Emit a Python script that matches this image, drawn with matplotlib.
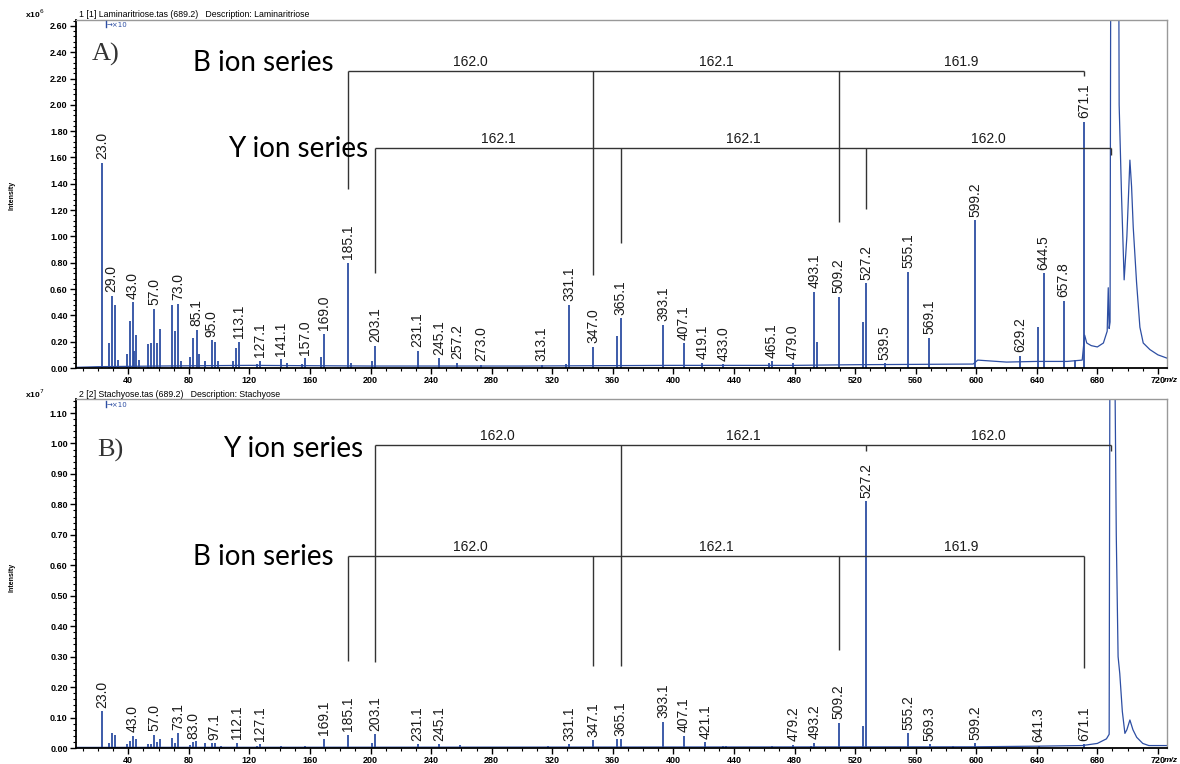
import matplotlib
matplotlib.use('Agg')
import matplotlib.pyplot as plt
from matplotlib.ticker import MultipleLocator, FormatStrFormatter

plt.rcParams['font.family'] = ['Liberation Sans', 'DejaVu Sans']

W, H = 1180, 764
BLUE = '#2d4ea3'
LADDER = '#333333'

# ---- panel A: Laminaritriose, intensity in x10^6 ----
a_mz = [23.0, 27.0, 29.0, 31.0, 33.0, 39.0, 41.0, 43.0, 44.0, 45.0, 47.0, 53.0, 55.0,
        57.0, 59.0, 61.0, 69.0, 71.0, 73.0, 75.0, 81.0, 83.0, 85.1, 87.0, 91.0, 95.0,
        97.0, 99.0, 109.0, 111.0, 113.1, 125.0, 127.1, 141.1, 145.0, 155.0, 157.0,
        167.0, 169.0, 185.1, 187.0, 201.0, 203.1, 231.1, 245.1, 257.2, 273.0, 313.1,
        329.0, 331.1, 347.0, 363.0, 365.1, 393.1, 407.1, 419.1, 433.0, 463.0, 465.1,
        479.0, 493.1, 495.0, 509.2, 525.0, 527.2, 539.5, 555.1, 569.1, 599.2, 629.2,
        641.0, 644.5, 657.8, 665.0, 671.1]
a_int = [1.56, 0.19, 0.55, 0.48, 0.06, 0.11, 0.36, 0.50, 0.13, 0.25, 0.06, 0.18, 0.19,
         0.45, 0.19, 0.30, 0.48, 0.28, 0.49, 0.05, 0.08, 0.23, 0.29, 0.11, 0.05, 0.21,
         0.20, 0.05, 0.05, 0.15, 0.20, 0.03, 0.055, 0.065, 0.04, 0.03, 0.075,
         0.08, 0.26, 0.80, 0.04, 0.05, 0.17, 0.13, 0.075, 0.04, 0.025, 0.025,
         0.03, 0.48, 0.16, 0.24, 0.38, 0.33, 0.19, 0.04, 0.03, 0.04, 0.05,
         0.04, 0.58, 0.20, 0.54, 0.35, 0.645, 0.035, 0.73, 0.23, 1.125, 0.095,
         0.31, 0.72, 0.51, 0.06, 1.87]
a_labels = [23.0, 29.0, 43.0, 57.0, 73.0, 85.1, 95.0, 113.1, 127.1, 141.1, 157.0, 169.0,
            185.1, 203.1, 231.1, 245.1, 257.2, 273.0, 313.1, 331.1, 347.0, 365.1, 393.1,
            407.1, 419.1, 433.0, 465.1, 479.0, 493.1, 509.2, 527.2, 539.5, 555.1, 569.1,
            599.2, 629.2, 644.5, 657.8, 671.1]
# continuous trace (baseline + broad precursor region)
a_trace_mz = [5.5, 20, 60, 120, 200, 300, 400, 480, 520, 598, 601, 620, 640, 660, 670,
              671.6, 673, 676, 680, 684, 686.5, 687.2, 687.8, 688.4, 689.0, 693.9, 694.4,
              696.0, 697.7, 699.5, 701.5, 702.6, 703.7, 705.9, 708.1, 710.3, 714.7, 720, 726]
a_trace_int = [0.005, 0.01, 0.015, 0.02, 0.015, 0.015, 0.02, 0.02, 0.025, 0.03, 0.06, 0.045,
               0.05, 0.05, 0.06, 0.25, 0.19, 0.17, 0.16, 0.19, 0.28, 0.61, 0.30, 0.35, 4.0,
               4.0, 2.0, 1.3, 0.67, 1.0, 1.58, 1.38, 1.07, 0.65, 0.31, 0.19, 0.14, 0.1, 0.075]

# ---- panel B: Stachyose, intensity in x10^7 ----
b_mz = [23.0, 27.0, 29.0, 31.0, 39.0, 41.0, 43.0, 45.0, 53.0, 55.0, 57.0, 59.0, 61.0,
        69.0, 71.0, 73.1, 81.0, 83.0, 85.0, 91.0, 95.0, 97.1, 101.0, 112.1, 125.0, 127.1,
        141.0, 157.0, 169.1, 185.1, 201.0, 203.1, 231.1, 245.1, 259.0, 317.0, 331.1,
        347.1, 363.0, 365.1, 393.1, 407.1, 421.1, 433.0, 435.0, 465.0, 479.2, 491.0,
        493.2, 509.2, 525.0, 527.2, 555.2, 569.3, 585.0, 599.2, 641.3, 671.1]
b_int = [0.12, 0.015, 0.048, 0.043, 0.012, 0.023, 0.04, 0.029, 0.012, 0.012, 0.043, 0.02,
         0.03, 0.034, 0.017, 0.048, 0.01, 0.019, 0.023, 0.015, 0.015, 0.016, 0.008, 0.018,
         0.006, 0.012, 0.005, 0.005, 0.03, 0.043, 0.015, 0.045, 0.013, 0.013, 0.01, 0.008,
         0.012, 0.026, 0.029, 0.029, 0.086, 0.04, 0.019, 0.008, 0.008, 0.006, 0.01, 0.006,
         0.018, 0.083, 0.072, 0.81, 0.048, 0.013, 0.006, 0.015, 0.008, 0.012]
b_labels = [23.0, 43.0, 57.0, 73.1, 83.0, 97.1, 112.1, 127.1, 169.1, 185.1, 203.1, 231.1,
            245.1, 331.1, 347.1, 365.1, 393.1, 407.1, 421.1, 479.2, 493.2, 509.2, 527.2,
            555.2, 569.3, 599.2, 641.3, 671.1]
b_trace_mz = [5.5, 300, 600, 640, 670, 680, 686, 687.8, 688.3, 691.5, 692.5, 693.7, 694.8,
              696.5, 698.2, 699.5, 701.5, 703.5, 706, 710, 714, 726]
b_trace_int = [0.002, 0.003, 0.004, 0.006, 0.008, 0.015, 0.03, 0.045, 1.3, 1.3, 0.7, 0.30,
               0.245, 0.12, 0.048, 0.06, 0.092, 0.06, 0.035, 0.015, 0.008, 0.008]

# ---- ion ladders ----
a_b_ions = [185.1, 347.0, 509.2, 671.1]
a_b_diff = ['162.0', '162.1', '161.9']
a_y_ions = [203.1, 365.1, 527.2, 689.2]
a_y_diff = ['162.1', '162.1', '162.0']
b_y_ions = [203.1, 365.1, 527.2, 689.2]
b_y_diff = ['162.0', '162.1', '162.0']
b_b_ions = [185.1, 347.1, 509.2, 671.1]
b_b_diff = ['162.0', '162.1', '161.9']


def fx(x):
    return x / W


def fy(y):
    return 1 - y / H


def style_axes(ax, ymax, major, minor):
    ax.set_xlim(5.5, 726)
    ax.set_ylim(0, ymax)
    ax.xaxis.set_major_locator(MultipleLocator(40))
    ax.xaxis.set_minor_locator(MultipleLocator(10))
    ax.yaxis.set_major_locator(MultipleLocator(major))
    ax.yaxis.set_minor_locator(MultipleLocator(minor))
    ax.yaxis.set_major_formatter(FormatStrFormatter('%.2f'))
    ax.set_xticks([t for t in range(40, 721, 40)])
    ax.tick_params(which='major', length=4, width=1, labelsize=6.5, pad=2)
    ax.tick_params(which='minor', length=2, width=0.8)
    for lab in ax.get_xticklabels() + ax.get_yticklabels():
        lab.set_fontweight('bold')
    for s in ['left', 'bottom']:
        ax.spines[s].set_linewidth(1.3)
        ax.spines[s].set_color('black')
    for s in ['top', 'right']:
        ax.spines[s].set_linewidth(1)
        ax.spines[s].set_color('#999999')


def draw_spectrum(ax, mz, inten, labels, trace_mz, trace_int):
    assert len(mz) == len(inten)
    ax.plot(trace_mz, trace_int, color=BLUE, lw=0.9)
    ax.vlines(mz, 0, inten, color=BLUE, lw=1.3)
    lookup = dict(zip(mz, inten))
    for m in labels:
        ax.annotate(f'{m:.1f}', (m, lookup[m]), xytext=(0, 2.5), textcoords='offset points',
                    rotation=90, ha='center', va='bottom', fontsize=10, color='#1a1a1a')


def draw_ladder(ax, ions, diffs, level, drops):
    ax.hlines(level, ions[0], ions[-1], color=LADDER, lw=1)
    ax.vlines(ions, drops, level, color=LADDER, lw=1)
    for i, d in enumerate(diffs):
        ax.annotate(d, ((ions[i] + ions[i + 1]) / 2, level), xytext=(0, 1.5),
                    textcoords='offset points', ha='center', va='bottom',
                    fontsize=10, color='#1a1a1a')


fig = plt.figure(figsize=(W / 100, H / 100), dpi=100)

ax1 = fig.add_axes([fx(76), fy(368), fx(1167 - 76), (368 - 20) / H])
ax2 = fig.add_axes([fx(76), fy(748), fx(1167 - 76), (748 - 399) / H])

draw_spectrum(ax1, a_mz, a_int, a_labels, a_trace_mz, a_trace_int)
draw_spectrum(ax2, b_mz, b_int, b_labels, b_trace_mz, b_trace_int)
style_axes(ax1, 2.645, 0.2, 0.04)
style_axes(ax2, 1.146, 0.1, 0.02)

draw_ladder(ax1, a_b_ions, a_b_diff, 2.26, [1.36, 0.71, 1.11, 2.22])
draw_ladder(ax1, a_y_ions, a_y_diff, 1.673, [0.72, 0.95, 1.21, 1.62])
draw_ladder(ax2, b_y_ions, b_y_diff, 0.995, [0.282, 0.269, 0.975, 0.975])
draw_ladder(ax2, b_b_ions, b_b_diff, 0.631, [0.286, 0.269, 0.322, 0.263])

# series names
series_font = dict(family=['Lato', 'DejaVu Sans'], fontsize=20, color='black',
                   ha='right', va='baseline')
fig.text(fx(334), fy(71), 'B ion series', **series_font)
fig.text(fx(368), fy(157), 'Y ion series', **series_font)
fig.text(fx(363), fy(457), 'Y ion series', **series_font)
fig.text(fx(334), fy(565), 'B ion series', **series_font)

# panel letters
fig.text(fx(92), fy(61), 'A)', family=['Liberation Serif'], fontsize=19, color='#333333',
         va='baseline')
fig.text(fx(97), fy(457), 'B)', family=['Liberation Serif'], fontsize=19, color='#333333',
         va='baseline')

# headers
fig.text(fx(79), fy(17), '1 [1] Laminaritriose.tas (689.2)   Description: Laminaritriose',
         fontsize=6.3, va='baseline')
fig.text(fx(79), fy(397), '2 [2] Stachyose.tas (689.2)   Description: Stachyose',
         fontsize=6.3, va='baseline')
fig.text(fx(25), fy(18), r'x10$^6$', fontsize=6, fontweight='bold', va='baseline')
fig.text(fx(25), fy(398), r'x10$^7$', fontsize=6, fontweight='bold', va='baseline')
fig.text(fx(12), fy(195), 'Intensity', rotation=90, fontsize=5, fontweight='bold',
         ha='center', va='center')
fig.text(fx(12), fy(577), 'Intensity', rotation=90, fontsize=5, fontweight='bold',
         ha='center', va='center')

# zoom markers
for y0 in (21, 401):
    fig.lines.append(plt.Line2D([fx(106), fx(106)], [fy(y0), fy(y0 + 6)], color=BLUE,
                                lw=1, transform=fig.transFigure))
    fig.text(fx(107), fy(y0 + 4), '\u2192\u00d710', fontsize=5, color=BLUE, va='center',
             family=['DejaVu Sans'])

# m/z axis label
fig.text(fx(1178), fy(381), 'm/z', fontsize=6, style='italic', fontweight='bold',
         ha='right', va='center')
fig.text(fx(1178), fy(761), 'm/z', fontsize=6, style='italic', fontweight='bold',
         ha='right', va='center')

fig.savefig('out.png', dpi=100)
